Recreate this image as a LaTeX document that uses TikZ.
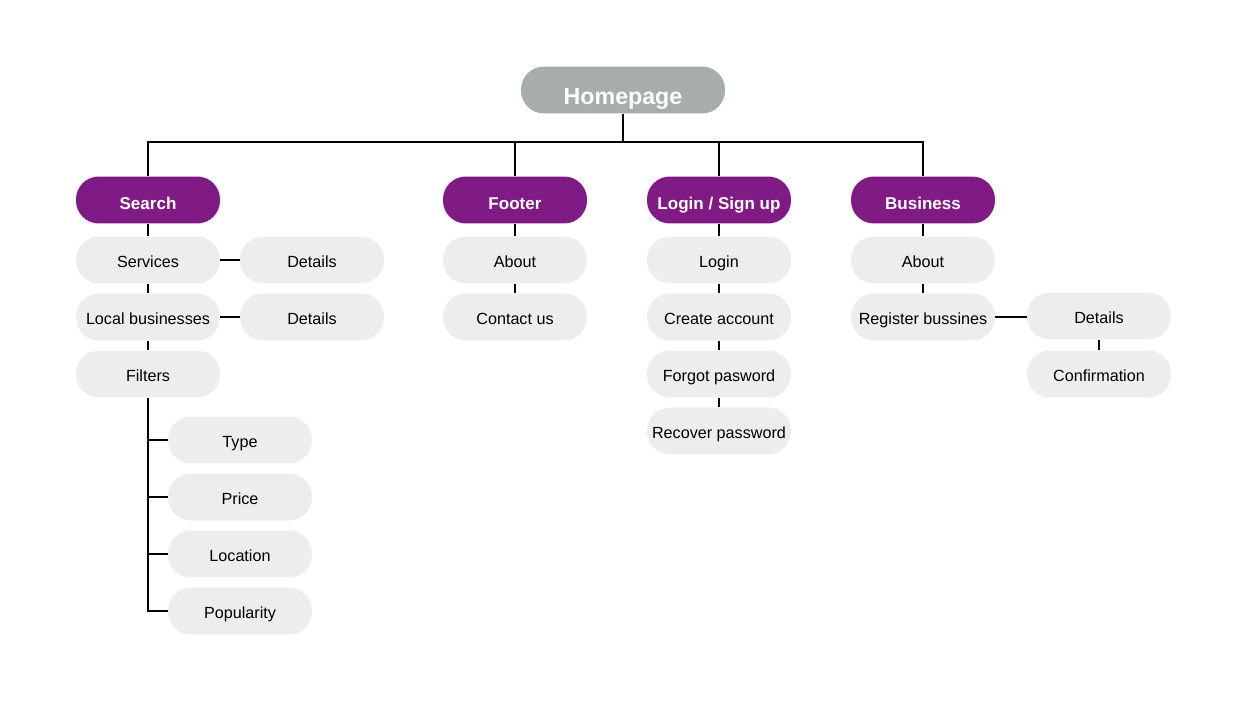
\documentclass[tikz,border=0pt]{standalone}
\usepackage{fontspec}
\setmainfont{Liberation Sans}
\definecolor{topgray}{HTML}{A7ADAA}
\definecolor{purp}{HTML}{801A85}
\definecolor{leafgray}{HTML}{EDEDED}

\begin{document}
\begin{tikzpicture}[x=0.02cm, y=-0.02cm,
  pill/.style={rectangle, rounded corners=13pt, minimum width=2.88cm, minimum height=0.94cm, inner sep=0pt},
  leaf/.style={pill, fill=leafgray, text height=8.3pt, text depth=0pt, font=\fontsize{9.2}{10}\selectfont},
  head/.style={pill, fill=purp, text=white, text height=11.3pt, text depth=0pt, font=\fontsize{9.7}{12}\selectfont\bfseries},
  link/.style={black, line width=0.9pt}]
\useasboundingbox (0,0) rectangle (1248,702);

% top
\node[pill, fill=topgray, text=white, minimum width=4.08cm, text height=16pt, text depth=0pt, font=\fontsize{13.2}{16}\selectfont\bfseries] (home) at (623,90) {Homepage};

% first level
\node[head] (search) at (148,200) {Search};
\node[head] (footer) at (515,200) {Footer};
\node[head] (login) at (719,200) {Login / Sign up};
\node[head] (biz) at (923,200) {Business};

% search column
\node[leaf] (services) at (148,260) {Services};
\node[leaf] (local) at (148,317) {Local businesses};
\node[leaf] (filters) at (148,374) {Filters};
\node[leaf] (sdet) at (312,260) {Details};
\node[leaf] (ldet) at (312,317) {Details};
\node[leaf] (type) at (240,440) {Type};
\node[leaf] (price) at (240,497) {Price};
\node[leaf] (location) at (240,554) {Location};
\node[leaf] (popular) at (240,611) {Popularity};

% footer column
\node[leaf] (fabout) at (515,260) {About};
\node[leaf] (contact) at (515,317) {Contact us};

% login column
\node[leaf] (lin) at (719,260) {Login};
\node[leaf] (create) at (719,317) {Create account};
\node[leaf] (forgot) at (719,374) {Forgot pasword};
\node[leaf] (recover) at (719,431) {Recover password};

% business column
\node[leaf] (babout) at (923,260) {About};
\node[leaf] (register) at (923,317) {Register bussines};
\node[leaf] (rdet) at (1099,316) {Details};
\node[leaf] (confirm) at (1099,374) {Confirmation};

% connectors
\coordinate (busL) at (147,142);
\coordinate (busR) at (924,142);
\draw[link] (home.south) -- (home.south |- busL);
\draw[link] (busL) -- (busR);
\foreach \n in {search,footer,login,biz}
  \draw[link] (\n.north) -- (\n.north |- busL);

\draw[link] (search) -- (services);
\draw[link] (services) -- (local);
\draw[link] (local) -- (filters);
\draw[link] (services) -- (sdet);
\draw[link] (local) -- (ldet);
\foreach \n in {type,price,location,popular}
  \draw[link] (filters.south) |- (\n.west);

\draw[link] (footer) -- (fabout);
\draw[link] (fabout) -- (contact);

\draw[link] (login) -- (lin);
\draw[link] (lin) -- (create);
\draw[link] (create) -- (forgot);
\draw[link] (forgot) -- (recover);

\draw[link] (biz) -- (babout);
\draw[link] (babout) -- (register);
\draw[link] (register.east) -- (register.east -| rdet.west);
\draw[link] (rdet) -- (confirm);

\end{tikzpicture}
\end{document}
